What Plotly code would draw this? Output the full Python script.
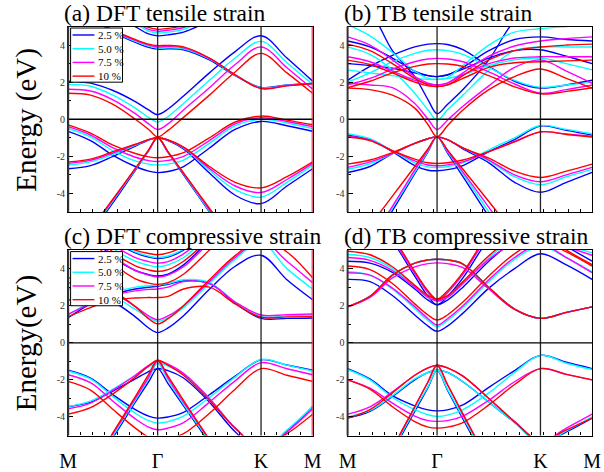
import plotly.graph_objects as go

# k-path sample positions (M - Gamma - K - M), hexagonal BZ distances
K_PATH = [0.0, 0.144, 0.289, 0.433, 0.519, 0.577, 0.644, 0.744, 0.911, 1.077, 1.244, 1.411, 1.577]
K_TICKS = [0.0, 0.577, 1.244, 1.577]
K_LABELS = ["M", "Γ", "K", "M"]
STRAINS = ["2.5 %", "5.0 %", "7.5 %", "10 %"]
COLORS = ["#0000FF", "#00FFFF", "#FF00FF", "#FF0000"]
Y_TICKS = [-4, -2, 0, 2, 4]
Y_LABELS = ["-4", "-2", "0", "2", "4"]

# (a) DFT tensile strain
A25 = [
    [-7.9, -6.2, -4.5, -2.75, -1.7, -1.0, -1.8, -3.0, -5.0, -7.0, -8.8, -8.5, -7.9],
    [-2.67, -2.5, -2.0, -1.45, -1.12, -1.0, -1.15, -1.6, -2.9, -4.1, -4.55, -3.6, -2.67],
    [-0.65, -1.15, -1.95, -2.55, -2.8, -2.88, -2.82, -2.55, -1.55, -0.55, -0.12, -0.35, -0.65],
    [2.05, 1.95, 1.55, 0.95, 0.5, 0.25, 0.55, 1.25, 2.5, 3.65, 4.5, 3.3, 2.05],
    [6.0, 5.5, 4.7, 4.15, 3.88, 3.78, 3.8, 3.75, 3.2, 2.35, 1.72, 1.85, 1.93],
    [7.0, 6.5, 5.8, 5.0, 4.6, 4.5, 4.55, 4.7, 5.3, 6.0, 6.5, 6.5, 7.0],
]
A50 = [
    [-7.7, -6.1, -4.4, -2.7, -1.7, -1.0, -1.78, -2.95, -4.95, -6.9, -8.7, -8.3, -7.7],
    [-2.47, -2.3, -1.9, -1.4, -1.1, -1.0, -1.13, -1.55, -2.75, -3.8, -4.2, -3.4, -2.47],
    [-0.5, -0.95, -1.7, -2.25, -2.42, -2.47, -2.42, -2.2, -1.3, -0.35, 0.0, -0.2, -0.5],
    [1.88, 1.78, 1.3, 0.6, 0.1, -0.15, 0.15, 0.85, 2.1, 3.3, 4.2, 3.05, 1.88],
    [6.0, 5.5, 4.75, 4.2, 3.95, 3.84, 3.85, 3.8, 3.25, 2.38, 1.7, 1.83, 1.93],
    [7.0, 6.5, 5.9, 5.15, 4.75, 4.65, 4.7, 4.85, 5.45, 6.1, 6.6, 6.6, 7.0],
]
A75 = [
    [-7.5, -6.0, -4.35, -2.68, -1.68, -1.0, -1.77, -2.92, -4.88, -6.8, -8.6, -8.2, -7.5],
    [-2.38, -2.22, -1.82, -1.37, -1.1, -1.0, -1.12, -1.52, -2.65, -3.6, -3.95, -3.25, -2.38],
    [-0.4, -0.85, -1.55, -2.05, -2.23, -2.28, -2.22, -2.0, -1.15, -0.25, 0.08, -0.12, -0.4],
    [1.62, 1.52, 1.05, 0.3, -0.25, -0.55, -0.25, 0.5, 1.7, 2.95, 3.9, 2.78, 1.62],
    [6.0, 5.5, 4.78, 4.25, 4.0, 3.9, 3.92, 3.85, 3.28, 2.4, 1.67, 1.82, 1.93],
    [7.0, 6.5, 6.0, 5.25, 4.85, 4.75, 4.8, 4.95, 5.55, 6.2, 6.7, 6.7, 7.0],
]
A100 = [
    [-7.3, -5.9, -4.3, -2.65, -1.65, -1.0, -1.75, -2.9, -4.8, -6.7, -8.5, -8.0, -7.3],
    [-2.3, -2.15, -1.75, -1.35, -1.1, -1.0, -1.12, -1.5, -2.55, -3.4, -3.7, -3.1, -2.3],
    [-0.3, -0.75, -1.4, -1.85, -2.03, -2.08, -2.02, -1.8, -1.0, -0.15, 0.17, -0.05, -0.3],
    [1.4, 1.3, 0.8, 0.0, -0.55, -0.95, -0.6, 0.1, 1.3, 2.55, 3.55, 2.5, 1.4],
    [6.0, 5.5, 4.8, 4.3, 4.05, 3.97, 3.98, 3.9, 3.3, 2.4, 1.65, 1.8, 1.93],
    [7.0, 6.5, 6.0, 5.3, 4.95, 4.85, 4.9, 5.05, 5.6, 6.3, 6.8, 6.8, 7.0],
]

# (b) TB tensile strain
B25 = [
    [-8.9, -6.9, -4.93, -2.94, -1.75, -0.95, -1.81, -3.1, -5.25, -7.4, -9.5, -9.2, -8.9],
    [-2.87, -2.55, -1.85, -1.3, -1.05, -0.95, -1.1, -1.6, -2.35, -3.4, -3.94, -3.4, -2.87],
    [-0.86, -1.1, -1.75, -2.5, -2.75, -2.78, -2.72, -2.5, -1.75, -1.1, -0.37, -0.6, -0.86],
    [6.5, 5.8, 3.7, 2.3, 1.05, 0.3, 0.8, 1.6, 3.2, 5.3, 6.2, 6.5, 6.5],
    [2.1, 2.85, 3.45, 3.9, 4.05, 4.08, 4.03, 3.75, 2.85, 2.05, 1.68, 1.85, 2.1],
    [4.22, 3.9, 3.3, 2.6, 2.35, 2.3, 2.38, 2.8, 3.7, 4.3, 4.44, 4.3, 4.22],
    [3.0, 2.9, 2.75, 2.5, 2.35, 2.3, 2.4, 2.7, 3.3, 3.7, 3.75, 3.4, 3.0],
]
B50 = [
    [-8.6, -6.7, -4.8, -2.85, -1.7, -0.95, -1.75, -2.95, -5.0, -7.1, -9.1, -8.9, -8.6],
    [-2.7, -2.4, -1.85, -1.3, -1.05, -0.95, -1.1, -1.55, -2.25, -3.1, -3.53, -3.1, -2.7],
    [-0.78, -1.05, -1.7, -2.35, -2.57, -2.6, -2.55, -2.35, -1.65, -1.0, -0.34, -0.55, -0.78],
    [3.9, 3.5, 2.65, 1.4, 0.5, -0.05, 0.5, 1.3, 2.65, 3.7, 3.9, 3.9, 3.9],
    [2.0, 2.5, 3.1, 3.55, 3.72, 3.75, 3.7, 3.5, 2.8, 2.1, 1.72, 1.85, 2.0],
    [5.1, 4.5, 3.6, 2.6, 2.2, 2.15, 2.25, 2.9, 4.0, 4.7, 4.88, 5.0, 5.1],
    [2.66, 2.5, 2.35, 2.2, 2.15, 2.15, 2.2, 2.4, 2.9, 3.2, 3.3, 3.0, 2.66],
]
B75 = [
    [-8.3, -6.5, -4.7, -2.75, -1.65, -0.95, -1.7, -2.85, -4.75, -6.65, -8.6, -8.5, -8.3],
    [-2.6, -2.3, -1.85, -1.3, -1.05, -0.95, -1.1, -1.55, -2.2, -3.0, -3.37, -3.0, -2.6],
    [-0.91, -1.12, -1.7, -2.25, -2.47, -2.51, -2.46, -2.3, -1.75, -1.2, -0.68, -0.8, -0.91],
    [1.94, 1.85, 1.7, 0.85, 0.0, -0.55, -0.05, 0.7, 1.8, 2.8, 3.2, 2.6, 1.94],
    [1.85, 2.2, 2.7, 3.1, 3.25, 3.28, 3.25, 3.1, 2.55, 1.9, 1.4, 1.6, 1.85],
    [4.44, 4.0, 3.2, 2.3, 1.95, 1.85, 1.95, 2.5, 3.4, 3.95, 4.22, 4.35, 4.44],
    [3.37, 3.1, 2.6, 2.1, 1.9, 1.85, 1.95, 2.4, 3.0, 3.3, 3.37, 3.37, 3.37],
]
B100 = [
    [-7.3, -5.74, -4.15, -2.55, -1.59, -0.95, -1.65, -2.7, -4.44, -6.2, -7.9, -7.6, -7.3],
    [-2.42, -2.2, -1.8, -1.3, -1.05, -0.95, -1.1, -1.55, -2.1, -2.8, -3.14, -2.8, -2.42],
    [-0.96, -1.15, -1.7, -2.15, -2.35, -2.39, -2.35, -2.2, -1.75, -1.22, -0.68, -0.82, -0.96],
    [1.68, 1.6, 1.3, 0.6, -0.3, -0.95, -0.35, 0.5, 1.6, 2.3, 2.71, 2.2, 1.68],
    [1.7, 2.05, 2.5, 2.85, 2.98, 3.0, 2.98, 2.85, 2.35, 1.75, 1.37, 1.5, 1.7],
    [4.05, 3.7, 3.0, 2.2, 1.85, 1.76, 1.85, 2.35, 3.2, 3.7, 3.9, 4.0, 4.05],
    [3.19, 2.95, 2.5, 2.0, 1.8, 1.76, 1.85, 2.2, 2.8, 3.05, 3.1, 3.15, 3.19],
]

# (c) DFT compressive strain
C25 = [
    [-8.8, -6.9, -5.1, -3.2, -2.1, -1.39, -2.2, -3.4, -5.4, -7.4, -9.4, -9.0, -8.8],
    [-3.44, -3.2, -2.6, -1.95, -1.55, -1.39, -1.5, -1.9, -3.2, -4.8, -5.9, -4.8, -3.44],
    [-1.48, -1.9, -2.8, -3.6, -3.95, -4.06, -4.0, -3.75, -2.8, -1.8, -0.92, -1.2, -1.48],
    [2.3, 2.45, 2.2, 1.4, 0.8, 0.55, 0.8, 1.46, 2.89, 4.13, 4.72, 3.4, 2.32],
    [1.35, 2.1, 2.6, 2.9, 3.0, 3.05, 3.15, 3.35, 3.2, 2.15, 1.32, 1.32, 1.34],
    [6.5, 5.8, 4.6, 3.9, 3.68, 3.6, 3.7, 4.2, 5.5, 6.5, 7.0, 7.0, 6.5],
    [7.0, 6.5, 5.5, 4.85, 4.62, 4.55, 4.62, 5.0, 6.0, 7.0, 7.5, 7.5, 7.0],
]
C50 = [
    [-8.6, -6.8, -5.0, -3.1, -1.95, -1.1, -2.0, -3.3, -5.3, -7.3, -9.3, -8.9, -8.6],
    [-3.44, -3.15, -2.5, -1.75, -1.3, -1.1, -1.25, -1.7, -3.0, -4.6, -5.7, -4.7, -3.44],
    [-1.52, -1.95, -2.9, -3.8, -4.2, -4.33, -4.25, -3.95, -2.95, -1.85, -0.9, -1.2, -1.52],
    [2.9, 2.8, 2.5, 1.8, 1.35, 1.15, 1.35, 1.9, 3.2, 4.5, 5.4, 4.0, 2.9],
    [1.5, 2.2, 2.7, 3.0, 3.08, 3.1, 3.2, 3.4, 3.25, 2.2, 1.42, 1.45, 1.5],
    [7.0, 6.3, 5.1, 4.4, 4.18, 4.1, 4.2, 4.6, 5.8, 7.0, 7.5, 7.5, 7.0],
    [7.2, 6.6, 5.6, 4.9, 4.68, 4.6, 4.68, 5.05, 6.1, 7.1, 7.6, 7.6, 7.2],
]
C75 = [
    [-8.5, -6.7, -4.9, -3.0, -1.85, -0.98, -1.9, -3.2, -5.2, -7.2, -9.2, -8.8, -8.5],
    [-3.56, -3.25, -2.55, -1.75, -1.22, -0.98, -1.15, -1.65, -3.0, -4.6, -5.7, -4.8, -3.56],
    [-1.72, -2.15, -3.15, -4.1, -4.55, -4.69, -4.6, -4.3, -3.2, -2.05, -1.07, -1.4, -1.72],
    [3.24, 3.1, 2.7, 1.95, 1.45, 1.25, 1.45, 2.0, 3.3, 4.6, 5.5, 4.4, 3.24],
    [1.55, 2.1, 2.55, 2.8, 2.88, 2.9, 3.0, 3.3, 3.2, 2.2, 1.5, 1.52, 1.55],
    [6.6, 5.9, 4.7, 3.9, 3.65, 3.55, 3.65, 4.1, 5.4, 6.5, 7.0, 7.0, 6.6],
    [7.0, 6.4, 5.3, 4.6, 4.38, 4.3, 4.38, 4.8, 5.9, 7.0, 7.5, 7.5, 7.0],
]
C100 = [
    [-8.7, -6.8, -4.85, -2.9, -1.7, -0.94, -1.8, -3.1, -5.25, -7.4, -9.5, -9.0, -8.7],
    [-3.85, -3.5, -2.75, -1.85, -1.25, -0.94, -1.2, -1.75, -3.1, -4.6, -5.6, -4.9, -3.85],
    [-2.08, -2.55, -3.6, -4.6, -5.1, -5.3, -5.2, -4.9, -3.8, -2.5, -1.39, -1.75, -2.08],
    [3.5, 3.3, 2.8, 1.95, 1.3, 1.02, 1.3, 2.0, 3.4, 4.7, 5.6, 4.9, 3.5],
    [1.41, 1.9, 2.3, 2.42, 2.44, 2.44, 2.5, 2.9, 3.0, 2.1, 1.38, 1.4, 1.41],
    [6.4, 5.6, 4.3, 3.45, 3.22, 3.15, 3.25, 3.7, 5.0, 6.3, 7.0, 7.0, 6.4],
    [6.8, 6.1, 4.9, 4.15, 3.93, 3.85, 3.95, 4.4, 5.6, 6.8, 7.3, 7.3, 6.8],
    [7.3, 6.7, 5.7, 5.0, 4.82, 4.75, 4.85, 5.2, 6.2, 7.2, 7.7, 7.7, 7.3],
]

# (d) TB compressive strain
D25 = [
    [-10.5, -8.2, -5.9, -3.7, -2.4, -1.48, -2.55, -4.1, -6.7, -9.3, -11.8, -11.0, -10.5],
    [-4.06, -3.7, -2.9, -2.0, -1.6, -1.48, -1.6, -2.1, -3.2, -4.3, -5.4, -4.8, -4.06],
    [-1.39, -1.95, -2.85, -3.4, -3.62, -3.67, -3.62, -3.35, -2.4, -1.5, -0.68, -1.05, -1.39],
    [3.42, 3.3, 2.55, 1.5, 0.9, 0.62, 0.9, 1.6, 2.95, 4.0, 4.8, 4.2, 3.42],
    [1.94, 2.5, 3.65, 4.3, 4.47, 4.51, 4.47, 4.25, 2.98, 1.82, 1.32, 1.64, 1.94],
    [4.4, 4.3, 3.8, 2.9, 2.3, 2.05, 2.3, 3.0, 4.4, 5.5, 6.0, 5.2, 4.4],
    [8.0, 7.0, 5.5, 3.6, 2.5, 2.05, 2.5, 3.5, 5.6, 7.0, 8.0, 8.0, 8.0],
]
D50 = [
    [-10.3, -8.0, -5.8, -3.6, -2.35, -1.48, -2.5, -4.0, -6.6, -9.2, -11.7, -11.0, -10.3],
    [-4.0, -3.65, -2.85, -1.95, -1.6, -1.48, -1.6, -2.1, -3.2, -4.3, -5.4, -4.75, -4.0],
    [-1.44, -2.0, -2.95, -3.6, -3.88, -3.97, -3.9, -3.6, -2.7, -1.6, -0.68, -1.1, -1.44],
    [3.83, 3.65, 2.9, 1.85, 1.2, 0.87, 1.2, 1.9, 3.3, 4.5, 5.2, 4.6, 3.83],
    [1.94, 2.5, 3.65, 4.3, 4.47, 4.51, 4.47, 4.25, 2.98, 1.82, 1.32, 1.64, 1.94],
    [4.76, 4.6, 4.0, 3.05, 2.45, 2.26, 2.45, 3.2, 4.6, 5.6, 6.0, 5.3, 4.85],
    [8.0, 7.0, 5.6, 3.75, 2.7, 2.26, 2.7, 3.7, 5.8, 7.2, 8.0, 8.0, 8.0],
]
D75 = [
    [-10.0, -7.9, -5.7, -3.45, -2.1, -1.21, -2.25, -3.85, -6.45, -9.0, -11.5, -11.0, -10.0],
    [-3.85, -3.45, -2.65, -1.75, -1.35, -1.21, -1.35, -1.8, -3.0, -4.25, -5.3, -4.6, -3.85],
    [-2.0, -2.45, -3.25, -3.95, -4.2, -4.24, -4.2, -3.95, -3.1, -2.1, -1.39, -1.7, -2.0],
    [3.78, 3.65, 2.95, 1.95, 1.3, 0.96, 1.3, 2.0, 3.4, 4.6, 5.3, 4.6, 3.78],
    [1.94, 2.45, 3.5, 4.1, 4.27, 4.31, 4.27, 4.05, 2.9, 1.8, 1.32, 1.64, 1.94],
    [4.6, 4.45, 3.9, 3.0, 2.45, 2.26, 2.45, 3.2, 4.5, 5.4, 5.8, 5.2, 4.72],
    [8.0, 7.0, 5.6, 3.75, 2.7, 2.26, 2.7, 3.7, 5.8, 7.2, 8.0, 8.0, 8.0],
]
D100 = [
    [-10.0, -7.9, -5.7, -3.45, -2.1, -1.21, -2.25, -3.85, -6.45, -9.0, -11.5, -11.0, -10.0],
    [-4.06, -3.6, -2.7, -1.75, -1.35, -1.21, -1.35, -1.8, -3.0, -4.25, -5.3, -4.7, -4.06],
    [-2.0, -2.5, -3.45, -4.25, -4.55, -4.6, -4.55, -4.3, -3.35, -2.25, -1.39, -1.7, -2.0],
    [4.14, 3.95, 3.2, 2.1, 1.5, 1.23, 1.5, 2.2, 3.6, 4.8, 5.5, 4.9, 4.14],
    [1.94, 2.5, 3.65, 4.3, 4.47, 4.51, 4.47, 4.25, 2.98, 1.82, 1.32, 1.64, 1.94],
    [4.94, 4.75, 4.1, 3.1, 2.55, 2.35, 2.55, 3.3, 4.7, 5.7, 6.0, 5.0, 4.22],
    [8.0, 7.0, 5.7, 3.85, 2.8, 2.35, 2.8, 3.8, 5.9, 7.3, 8.0, 8.0, 8.0],
]

PANELS = [
    ("(a) DFT tensile strain", [A25, A50, A75, A100]),
    ("(b) TB tensile strain", [B25, B50, B75, B100]),
    ("(c) DFT compressive strain", [C25, C50, C75, C100]),
    ("(d) TB compressive strain", [D25, D50, D75, D100]),
]

W, H = 604, 472
SERIF = "Liberation Serif, Times New Roman, serif"


def px(x):
    return x / W


def py(y):
    return 1 - y / H


# panel pixel boxes (left, right, top, bottom)
BOXES = [(61, 313, 26.7, 213.3), (349, 601, 26.7, 213.3),
         (61, 313, 251.7, 438.3), (349, 601, 251.7, 438.3)]

fig = go.Figure()
layout = dict(width=W, height=H, margin=dict(l=0, r=0, t=0, b=0),
              paper_bgcolor="white", plot_bgcolor="white", showlegend=False)
shapes = []
annotations = []

for i, (title, sets) in enumerate(PANELS):
    n = "" if i == 0 else str(i + 1)
    xa, ya = "x" + n, "y" + n
    for color, bands in zip(COLORS, sets):
        for band in bands:
            fig.add_trace(go.Scatter(
                x=K_PATH, y=band, mode="lines", xaxis=xa, yaxis=ya,
                line=dict(color=color, width=1.4, shape="spline", smoothing=1.0),
                hoverinfo="skip"))
    l, r, t, b = BOXES[i]
    bottom_row = i >= 2
    layout["xaxis" + n] = dict(
        domain=[px(l), px(r)], range=[K_TICKS[0], K_TICKS[-1]], anchor=ya,
        showline=True, mirror=True, linecolor="black", linewidth=1.3,
        showgrid=False, zeroline=False, tickmode="array", tickvals=K_TICKS,
        ticktext=K_LABELS, ticks="inside", ticklen=0,
        showticklabels=bottom_row, ticklabelstandoff=7,
        tickfont=dict(family=SERIF, size=20, color="black"),
        minor=dict(ticks="inside", ticklen=3, dtick=0.079, tick0=0, tickcolor="black"))
    layout["yaxis" + n] = dict(
        domain=[py(b), py(t)], range=[-5, 5], anchor=xa,
        showline=True, mirror=True, linecolor="black", linewidth=1.3,
        showgrid=False, zeroline=False, tickmode="array", tickvals=Y_TICKS,
        ticktext=Y_LABELS, ticks="inside", ticklen=5, tickcolor="black",
        tickfont=dict(family=SERIF, size=10, color="#333333"),
        minor=dict(ticks="inside", ticklen=3, dtick=1, tick0=0, tickcolor="black"))
    # high-symmetry lines and Fermi level
    for kv in (K_TICKS[1], K_TICKS[2]):
        shapes.append(dict(type="line", xref=xa, yref=ya + " domain", x0=kv, x1=kv,
                           y0=0, y1=1, line=dict(color="#222222", width=1.3), layer="above"))
    shapes.append(dict(type="line", xref=xa + " domain", yref=ya, x0=0, x1=1, y0=0, y1=0,
                       line=dict(color="black", width=1.3), layer="above"))
    # left frame edge slightly heavier, as in the reference
    shapes.append(dict(type="line", xref=xa + " domain", yref=ya + " domain", x0=0, x1=0,
                       y0=0, y1=1, line=dict(color="#333333", width=2), layer="above"))
    # panel title
    annotations.append(dict(text=title, x=px(l - 6), y=py(t - 14), xref="paper", yref="paper",
                            xanchor="left", yanchor="middle", showarrow=False,
                            font=dict(family=SERIF, size=23.5, color="black")))
    if i in (0, 2):
        shapes.append(dict(type="line", xref=xa, yref=ya + " domain", x0=K_TICKS[-1], x1=K_TICKS[-1],
                           y0=0, y1=1, line=dict(color="#DC143C", width=2), layer="above"))
        # y title
        annotations.append(dict(text="Energy (eV)" if i == 0 else "Energy(eV)",
                                x=px(18), y=py((t + b) / 2), xref="paper", yref="paper",
                                textangle=-90, showarrow=False, xanchor="center", yanchor="middle",
                                font=dict(family=SERIF, size=29, color="black")))
        # legend box
        shapes.append(dict(type="rect", xref="paper", yref="paper",
                           x0=px(l + 2.5), x1=px(l + 56), y0=py(t + 1.5), y1=py(t + 56),
                           line=dict(color="black", width=1), fillcolor="white", layer="above"))
        for j, (lab, col) in enumerate(zip(STRAINS, COLORS)):
            yy = t + 8.5 + j * 13.8
            shapes.append(dict(type="line", xref="paper", yref="paper",
                               x0=px(l + 4.5), x1=px(l + 27), y0=py(yy), y1=py(yy),
                               line=dict(color=col, width=1.4), layer="above"))
            annotations.append(dict(text=lab, x=px(l + 29), y=py(yy), xref="paper", yref="paper",
                                    xanchor="left", yanchor="middle", showarrow=False,
                                    font=dict(family=SERIF, size=11, color="black")))

layout["shapes"] = shapes
layout["annotations"] = annotations
fig.update_layout(**layout)
fig.write_html("out.html")
